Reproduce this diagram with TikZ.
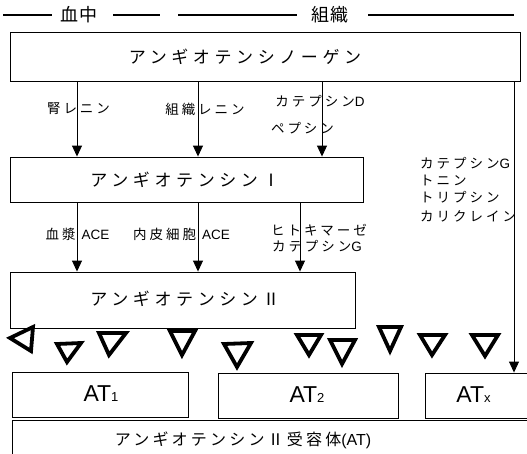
\documentclass[tikz,border=0pt]{standalone}
\usepackage{fontspec}
\setmainfont{Liberation Sans}
\newfontfamily\latf{Liberation Sans}
\newfontfamily\jbig[LetterSpace=27]{Noto Sans CJK JP}
\newfontfamily\jbot[LetterSpace=20]{Noto Sans CJK JP}
\newfontfamily\jlab[LetterSpace=22]{Noto Sans CJK JP}
\newfontfamily\jhead[LetterSpace=5]{Noto Sans CJK JP}
\usetikzlibrary{arrows.meta}
\tikzset{
  boxnode/.style={draw, line width=0.9pt, inner sep=0pt},
  arr/.style={-{Triangle[width=10pt,length=11pt]}, line width=0.9pt},
  lbl/.style={font=\fontsize{13.5}{16}\jlab, inner sep=0pt},
  big/.style={font=\fontsize{17}{20}\jbig, inner sep=0pt},
  bot/.style={font=\fontsize{16}{19}\jbot, inner sep=0pt},
  attext/.style={font=\fontsize{23}{26}\latf, inner sep=0pt},
  tri/.style={draw, line width=3.8pt, line join=miter},
  hline/.style={line width=2.6pt},
  head/.style={font=\fontsize{18}{20}\jhead, inner sep=0pt}
}
\newcommand{\atsub}[1]{{\fontsize{13}{14}\selectfont #1}}
\newcommand{\lat}[1]{{\latf #1}}
\begin{document}
\begin{tikzpicture}[x=1pt,y=-1pt]
\useasboundingbox (0,0) rectangle (527,453);
\clip (0,0) rectangle (527,453);
% header
\node[head] (blood) at (79,15) {血中};
\node[head] (tissue) at (330,15) {組織};
\coordinate (h1) at (3,15);
\coordinate (h2) at (52,15);
\coordinate (h3) at (113,15);
\coordinate (h4) at (160,15);
\coordinate (h5) at (178,15);
\coordinate (h6) at (297,15);
\coordinate (h7) at (368,15);
\coordinate (h8) at (514,15);
\draw[hline] (h1) -- (h2);
\draw[hline] (h3) -- (h4);
\draw[hline] (h5) -- (h6);
\draw[hline] (h7) -- (h8);
% boxes
\node[boxnode, minimum width=510, minimum height=49] (ago) at (265,56.5) {};
\node[big] (agot) at (245,57) {アンギオテンシノーゲン};
\node[boxnode, minimum width=353, minimum height=45] (an1) at (186.5,179.5) {};
\node[big] (an1t) at (185,180) {アンギオテンシンⅠ};
\node[boxnode, minimum width=345, minimum height=56] (an2) at (182.5,300) {};
\node[big] (an2t) at (185,299) {アンギオテンシンⅡ};
\node[boxnode, minimum width=176, minimum height=45] (at1) at (100,394.5) {};
\node[attext] (at1t) at (101,394) {AT\atsub{1}};
\node[boxnode, minimum width=180, minimum height=45] (at2) at (308,395.5) {};
\node[attext] (at2t) at (307,395) {AT\atsub{2}};
\node[boxnode, minimum width=120, minimum height=45, anchor=west] (atx) at (425,395.5) {};
\node[attext] (atxt) at (473.5,395) {AT\atsub{x}};
\node[boxnode, minimum width=530, minimum height=60, anchor=north west] (rec) at (12,420) {};
\node[bot] (rect) at (243,440) {アンギオテンシンⅡ受容体\lat{(AT)}};
% arrow columns
\coordinate (xa) at (77,0);
\coordinate (xb) at (198,0);
\coordinate (xc) at (322,0);
\coordinate (xd) at (300,0);
\coordinate (xr) at (514,0);
\draw[arr] (ago.south -| xa) -- (an1.north -| xa);
\draw[arr] (ago.south -| xb) -- (an1.north -| xb);
\draw[arr] (ago.south -| xc) -- (an1.north -| xc);
\draw[arr] (an1.south -| xa) -- (an2.north -| xa);
\draw[arr] (an1.south -| xb) -- (an2.north -| xb);
\draw[arr] (an1.south -| xd) -- (an2.north -| xd);
\draw[arr] (ago.south -| xr) -- (atx.north -| xr);
% labels
\node[lbl] (l1) at (78.5,109) {腎レニン};
\node[lbl] (l2) at (205,109) {組織レニン};
\node[lbl] (l3) at (320,101) {カテプシン\lat{D}};
\node[lbl] (l4) at (302.5,128) {ペプシン};
\node[lbl, anchor=west] (r1) at (420,163) {カテプシン\lat{G}};
\node[lbl, anchor=west] (r2) at (420,180) {トニン};
\node[lbl, anchor=west] (r3) at (420,197) {トリプシン};
\node[lbl, anchor=west] (r4) at (420,216) {カリクレイン};
\node[lbl] (l5) at (77.5,234) {血漿 \lat{ACE}};
\node[lbl] (l6) at (181.5,234) {内皮細胞 \lat{ACE}};
\node[lbl] (l7) at (319,230) {ヒトキマーゼ};
\node[lbl] (l8) at (317,246) {カテプシン\lat{G}};
% angiotensin II molecules
\draw[tri] (10,338) -- (33,327) -- (31,351) -- cycle;
\draw[tri] (57,344) -- (81,343) -- (67,362) -- cycle;
\draw[tri] (99,333) -- (126,333) -- (109,355) -- cycle;
\draw[tri] (170,331) -- (195,331) -- (182,355) -- cycle;
\draw[tri] (224,344) -- (251,343) -- (237,367) -- cycle;
\draw[tri] (297,335) -- (321,335) -- (309,355) -- cycle;
\draw[tri] (330,340) -- (355,340) -- (342,364) -- cycle;
\draw[tri] (379,327) -- (401,327) -- (390,351) -- cycle;
\draw[tri] (420,335) -- (445,335) -- (432,355) -- cycle;
\draw[tri] (472,335) -- (498,335) -- (485,356) -- cycle;
\end{tikzpicture}
\end{document}
